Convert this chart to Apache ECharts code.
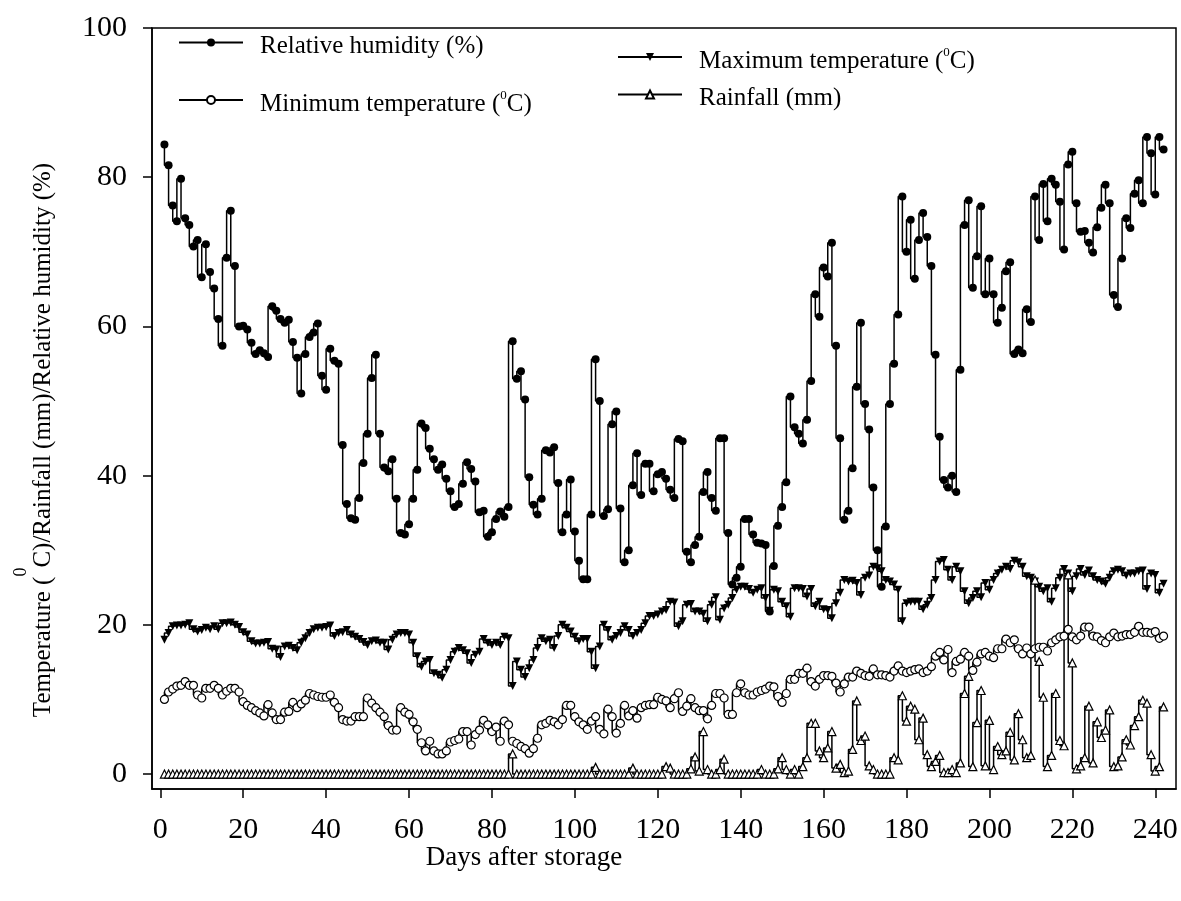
<!DOCTYPE html>
<html>
<head>
<meta charset="utf-8">
<script src="https://cdn.jsdelivr.net/npm/echarts@6/dist/echarts.min.js"></script>
<style>
  html, body { margin: 0; padding: 0; background: #fff; }
  #chart { width: 1181px; height: 901px; }
</style>
</head>
<body>
<div id="chart"></div>
<script>
// daily weather after storage, day 1 .. 242
const humidity = [
  84.4, 81.6, 76.2, 74.1, 79.8, 74.5, 73.6, 70.7, 71.6, 66.6,
  71.0, 67.3, 65.1, 61.0, 57.4, 69.2, 75.5, 68.1, 60.0, 60.1,
  59.6, 57.8, 56.3, 56.8, 56.4, 55.9, 62.7, 62.1, 61.0, 60.5,
  60.9, 57.9, 55.8, 51.0, 56.3, 58.6, 59.2, 60.4, 53.4, 51.5,
  57.0, 55.4, 55.0, 44.1, 36.2, 34.3, 34.1, 37.0, 41.7, 45.6,
  53.1, 56.2, 45.6, 41.1, 40.6, 42.2, 36.9, 32.3, 32.1, 33.5,
  36.9, 40.8, 47.0, 46.4, 43.6, 42.2, 40.8, 41.5, 39.6, 37.9,
  35.8, 36.2, 38.9, 41.8, 40.9, 39.2, 35.1, 35.3, 31.8, 32.4,
  34.2, 35.2, 34.5, 35.8, 58.0, 53.0, 54.0, 50.2, 39.8, 36.1,
  34.8, 36.9, 43.4, 43.1, 43.8, 39.0, 32.4, 34.8, 39.5, 32.5,
  28.6, 26.1, 26.1, 34.8, 55.6, 50.0, 34.6, 35.5, 46.9, 48.6,
  35.6, 28.4, 30.0, 38.7, 43.0, 37.4, 41.6, 41.6, 37.9, 40.2,
  40.5, 39.6, 38.1, 37.0, 44.9, 44.6, 29.8, 28.4, 30.7, 31.8,
  37.8, 40.5, 37.0, 35.3, 45.0, 45.0, 32.3, 25.4, 26.3, 27.8,
  34.2, 34.2, 32.1, 31.0, 30.9, 30.7, 21.8, 27.9, 33.3, 35.8,
  39.1, 50.6, 46.5, 45.6, 44.3, 47.5, 52.7, 64.3, 61.3, 67.9,
  66.7, 71.2, 57.4, 45.0, 34.1, 35.3, 41.0, 51.9, 60.5, 49.6,
  46.2, 38.4, 30.0, 25.1, 33.2, 49.6, 55.0, 61.6, 77.4, 70.0,
  74.3, 66.4, 71.6, 75.2, 72.0, 68.1, 56.2, 45.2, 39.4, 38.4,
  40.0, 37.8, 54.2, 73.6, 76.9, 65.2, 69.4, 76.1, 64.3, 69.1,
  64.3, 60.5, 62.5, 67.4, 68.6, 56.3, 56.9, 56.4, 62.3, 60.6,
  77.4, 71.6, 79.1, 74.1, 79.8, 79.0, 76.7, 70.3, 81.7, 83.4,
  76.5, 72.7, 72.8, 71.2, 69.9, 73.3, 75.9, 79.0, 76.5, 64.2,
  62.6, 69.1, 74.5, 73.2, 77.8, 79.6, 76.5, 85.4, 83.2, 77.7,
  85.4, 83.7
];

const maxTemp = [
  18.0, 18.9, 19.8, 19.9, 19.9, 20.0, 20.2, 19.4, 19.1, 19.3,
  19.6, 19.4, 19.8, 19.4, 20.2, 20.2, 20.3, 20.0, 19.7, 19.0,
  18.7, 17.8, 17.5, 17.5, 17.6, 17.7, 16.8, 16.7, 15.7, 17.1,
  17.2, 16.9, 16.6, 17.6, 18.2, 18.9, 19.4, 19.6, 19.6, 19.7,
  19.9, 18.5, 18.9, 19.0, 19.3, 18.7, 18.4, 18.1, 17.7, 17.3,
  17.8, 17.9, 17.6, 17.6, 16.7, 18.0, 18.7, 18.9, 18.9, 18.7,
  17.6, 15.8, 14.4, 15.1, 15.3, 13.5, 13.3, 12.9, 14.0, 15.3,
  16.4, 16.9, 16.6, 16.2, 14.9, 16.0, 16.4, 18.1, 17.6, 17.3,
  17.6, 17.3, 18.4, 18.2, 11.8, 15.1, 14.0, 13.0, 14.2, 15.3,
  16.9, 18.2, 17.8, 18.0, 16.9, 18.5, 20.0, 19.6, 19.1, 18.4,
  17.8, 18.1, 18.1, 16.4, 14.2, 17.1, 20.0, 19.3, 18.0, 18.5,
  18.9, 19.8, 19.3, 18.5, 18.9, 19.3, 20.2, 21.2, 21.2, 21.4,
  21.8, 22.0, 23.1, 23.0, 19.8, 20.5, 22.7, 22.8, 21.8, 21.8,
  21.5, 20.5, 22.7, 23.7, 20.7, 22.2, 22.7, 23.6, 24.7, 25.1,
  25.1, 24.8, 24.3, 24.7, 24.9, 23.6, 21.9, 24.7, 24.5, 23.1,
  22.5, 21.1, 24.9, 24.9, 24.8, 23.8, 24.8, 22.5, 23.1, 22.1,
  22.0, 20.9, 22.9, 24.3, 26.0, 25.8, 25.9, 25.6, 24.0, 26.3,
  26.6, 27.8, 27.6, 27.2, 26.0, 25.8, 25.4, 24.7, 20.5, 22.9,
  23.1, 23.1, 23.1, 22.1, 22.7, 23.6, 26.0, 28.5, 28.7, 27.4,
  26.0, 27.8, 27.2, 24.5, 22.9, 23.6, 24.5, 23.7, 25.6, 24.7,
  26.0, 26.9, 27.4, 27.8, 27.5, 28.6, 28.4, 27.8, 26.5, 26.3,
  25.8, 25.1, 24.5, 24.9, 23.1, 24.9, 26.3, 27.5, 26.9, 24.5,
  26.5, 27.5, 26.7, 27.3, 26.5, 26.0, 25.8, 25.5, 26.3, 27.2,
  27.4, 27.2, 26.6, 26.9, 26.9, 27.2, 27.3, 24.8, 26.9, 26.7,
  24.3, 25.5
];

const minTemp = [
  10.0, 11.0, 11.4, 11.8, 11.9, 12.4, 11.9, 11.9, 10.6, 10.2,
  11.5, 11.5, 11.9, 11.5, 10.6, 11.1, 11.5, 11.5, 11.0, 9.7,
  9.2, 8.9, 8.5, 8.2, 7.8, 9.3, 8.2, 7.3, 7.3, 8.3,
  8.4, 9.6, 8.9, 9.4, 9.9, 10.8, 10.6, 10.4, 10.3, 10.3,
  10.6, 9.6, 8.9, 7.3, 7.1, 7.1, 7.7, 7.7, 7.7, 10.2,
  9.5, 8.9, 8.3, 7.7, 6.5, 5.9, 5.9, 8.9, 8.3, 8.0,
  7.0, 6.0, 4.2, 3.1, 4.4, 3.1, 2.7, 2.7, 3.1, 4.3,
  4.5, 4.7, 5.7, 5.7, 3.9, 5.3, 5.9, 7.2, 6.6, 5.7,
  6.3, 4.4, 7.1, 6.6, 4.4, 4.1, 3.7, 3.4, 2.8, 3.4,
  4.8, 6.6, 6.8, 7.2, 7.0, 6.6, 7.3, 9.2, 9.2, 7.7,
  7.0, 6.6, 6.0, 7.1, 7.7, 6.0, 5.4, 8.7, 7.7, 5.5,
  6.8, 9.2, 7.8, 8.5, 7.5, 8.9, 9.2, 9.3, 9.3, 10.3,
  10.0, 9.8, 8.9, 10.1, 10.9, 8.4, 9.1, 10.1, 8.9, 8.5,
  8.5, 7.4, 9.2, 10.8, 10.8, 10.2, 8.0, 8.0, 10.9, 12.1,
  10.9, 10.6, 10.6, 11.0, 11.2, 11.4, 11.8, 11.7, 10.4, 9.6,
  10.8, 12.7, 12.7, 13.5, 13.5, 14.2, 12.4, 11.8, 12.7, 13.2,
  13.2, 13.1, 12.2, 11.0, 12.1, 13.0, 13.0, 13.8, 13.5, 13.2,
  13.1, 14.1, 13.3, 13.3, 13.2, 13.0, 13.8, 14.5, 13.8, 13.6,
  13.8, 14.0, 14.1, 13.6, 13.8, 14.4, 15.8, 16.3, 15.3, 16.7,
  13.6, 15.1, 15.4, 16.3, 15.8, 13.9, 15.0, 16.1, 16.3, 15.8,
  15.6, 16.8, 16.8, 18.1, 17.6, 18.0, 16.8, 16.1, 16.9, 16.1,
  16.8, 17.0, 17.0, 16.5, 17.6, 18.0, 18.4, 18.5, 19.4, 18.4,
  18.0, 18.5, 19.7, 19.7, 18.5, 18.4, 17.9, 17.6, 18.4, 18.9,
  18.4, 18.5, 18.7, 18.7, 19.0, 19.8, 19.0, 19.0, 18.9, 19.1,
  18.2, 18.5
];

const rainfall = [
  0, 0, 0, 0, 0, 0, 0, 0, 0, 0,
  0, 0, 0, 0, 0, 0, 0, 0, 0, 0,
  0, 0, 0, 0, 0, 0, 0, 0, 0, 0,
  0, 0, 0, 0, 0, 0, 0, 0, 0, 0,
  0, 0, 0, 0, 0, 0, 0, 0, 0, 0,
  0, 0, 0, 0, 0, 0, 0, 0, 0, 0,
  0, 0, 0, 0, 0, 0, 0, 0, 0, 0,
  0, 0, 0, 0, 0, 0, 0, 0, 0, 0,
  0, 0, 0, 0, 2.7, 0, 0, 0, 0, 0,
  0, 0, 0, 0, 0, 0, 0, 0, 0, 0,
  0, 0, 0, 0, 0.9, 0, 0, 0, 0, 0,
  0, 0, 0, 0.8, 0, 0, 0, 0, 0, 0,
  0, 1.0, 0.8, 0, 0, 0, 0, 0.7, 2.3, 0.4,
  5.7, 0.6, 0, 0, 0.6, 2.0, 0, 0, 0, 0,
  0, 0, 0, 0, 0.6, 0, 0, 0, 0.7, 2.2,
  0.6, 0, 0.6, 0, 1.0, 2.2, 6.8, 6.8, 3.1, 2.2,
  3.5, 5.7, 0.8, 1.3, 0.2, 0.4, 3.3, 9.8, 4.5, 5.1,
  1.1, 0.6, 0, 0, 0, 0, 2.2, 1.9, 10.5, 7.1,
  9.1, 8.7, 4.6, 7.5, 2.6, 1.0, 1.7, 2.5, 0.2, 0.2,
  0.6, 0.2, 1.5, 10.8, 13.1, 1.0, 6.9, 11.2, 1.1, 7.2,
  0.6, 3.7, 2.6, 3.1, 5.6, 1.9, 8.1, 4.6, 2.2, 2.5,
  26.0, 15.1, 10.3, 1.0, 2.5, 10.8, 4.5, 3.8, 26.7, 14.9,
  0.7, 1.1, 2.2, 9.1, 1.5, 7.0, 4.9, 5.9, 8.6, 1.0,
  1.1, 2.3, 4.6, 3.9, 6.5, 7.7, 9.9, 9.5, 2.6, 0.4,
  1.0, 9.0
];

const xTicks = [0, 20, 40, 60, 80, 100, 120, 140, 160, 180, 200, 220, 240];
const yTicks = [0, 20, 40, 60, 80, 100];

const FONT = '"Liberation Serif", "Times New Roman", serif';
const toPairs = arr => arr.map((v, i) => [i + 1, v]);

const chart = echarts.init(document.getElementById('chart'), null, { renderer: 'canvas' });

// legend text with a raised "0" before C
const legendRich = {
  n: { fontFamily: FONT, fontSize: 25, lineHeight: 30, verticalAlign: 'middle', color: '#000' },
  s: { fontFamily: FONT, fontSize: 13, lineHeight: 20, verticalAlign: 'top', color: '#000' }
};

function legendAt (name, left, top, label) {
  return {
    data: [name],
    left: left,
    top: top,
    padding: 0,
    itemWidth: 64,
    itemHeight: 10,
    selectedMode: false,
    formatter: () => label,
    textStyle: { rich: legendRich, padding: [8, 0, 0, 12] }
  };
}

function lineSeries (name, values, symbol, itemStyle, extra) {
  return Object.assign({
    name: name,
    type: 'line',
    step: 'start',
    data: toPairs(values),
    symbol: symbol,
    symbolSize: 8,
    showAllSymbol: true,
    lineStyle: { color: '#000', width: 1.5 },
    itemStyle: itemStyle,
    emphasis: { disabled: true }
  }, extra || {});
}

const option = {
  animation: false,
  backgroundColor: '#fff',
  grid: {
    left: 152,
    right: 5,
    top: 28,
    bottom: 112,
    show: true,
    borderColor: '#000',
    borderWidth: 1.5
  },
  legend: [
    legendAt('Relative humidity (%)', 178, 34, '{n|Relative humidity (%)}'),
    legendAt('Minimum temperature', 178, 89, '{n|Minimum temperature (}{s|0}{n|C)}'),
    legendAt('Maximum temperature', 617, 46, '{n|Maximum temperature (}{s|0}{n|C)}'),
    legendAt('Rainfall (mm)', 617, 86, '{n|Rainfall (mm)}')
  ],
  xAxis: {
    type: 'value',
    min: -2,
    max: 245,
    axisLine: { onZero: false, lineStyle: { color: '#000', width: 1.5 } },
    axisTick: { customValues: xTicks, length: 9, lineStyle: { color: '#000', width: 1.5 } },
    axisLabel: { customValues: xTicks, margin: 26, fontFamily: FONT, fontSize: 30, color: '#000' },
    splitLine: { show: false }
  },
  yAxis: {
    type: 'value',
    min: -2,
    max: 100,
    axisLine: { show: true, onZero: false, lineStyle: { color: '#000', width: 1.5 } },
    axisTick: { show: true, customValues: yTicks, length: 9, lineStyle: { color: '#000', width: 1.5 } },
    axisLabel: { customValues: yTicks, margin: 25, fontFamily: FONT, fontSize: 30, color: '#000' },
    splitLine: { show: false }
  },
  graphic: [
    {
      type: 'text',
      x: 34,
      y: 440,
      rotation: Math.PI / 2,
      style: {
        text: '{n|Temperature (}{s|0}{n|C)/Rainfall (mm)/Relative humidity (%)}',
        align: 'center',
        verticalAlign: 'middle',
        rich: {
          n: { fontFamily: FONT, fontSize: 25, lineHeight: 44, verticalAlign: 'bottom', fill: '#000' },
          s: { fontFamily: FONT, fontSize: 18, lineHeight: 18, verticalAlign: 'top', fill: '#000' }
        }
      }
    },
    {
      type: 'text',
      x: 524,
      y: 858,
      style: {
        text: 'Days after storage',
        font: '27px ' + FONT,
        fill: '#000',
        align: 'center',
        verticalAlign: 'middle'
      }
    }
  ],
  series: [
    lineSeries('Relative humidity (%)', humidity, 'circle', { color: '#000' }),
    lineSeries('Maximum temperature', maxTemp, 'triangle', { color: '#000' }, { symbolRotate: 180 }),
    lineSeries('Minimum temperature', minTemp, 'circle', { color: '#fff', borderColor: '#000', borderWidth: 1.2 }),
    lineSeries('Rainfall (mm)', rainfall, 'triangle', { color: '#fff', borderColor: '#000', borderWidth: 1.2 })
  ]
};

chart.setOption(option);
</script>
</body>
</html>
